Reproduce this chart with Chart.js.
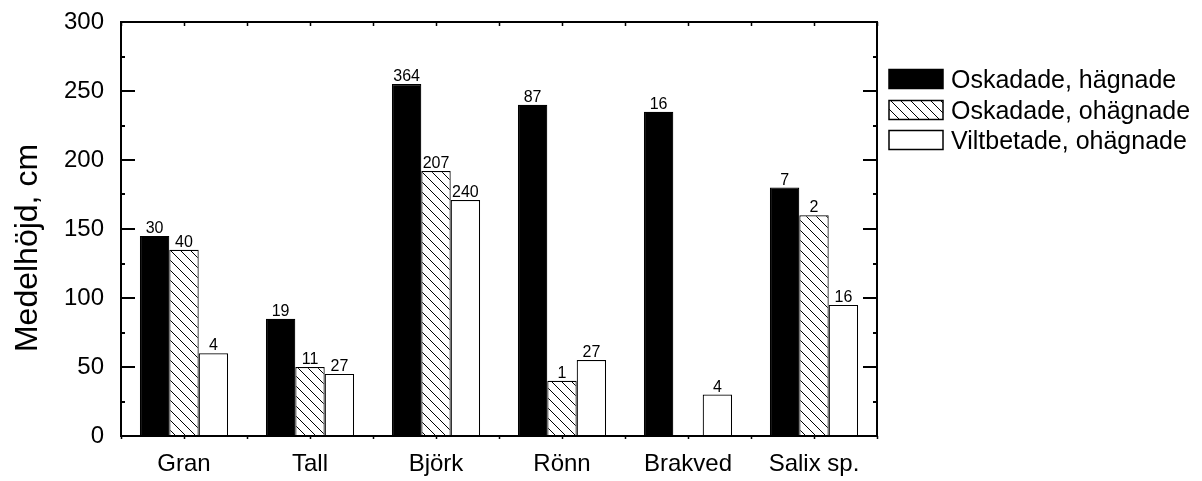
<!DOCTYPE html>
<html>
<head>
<meta charset="utf-8">
<script src="https://cdn.jsdelivr.net/npm/chart.js@4.4.0/dist/chart.umd.min.js"></script>
<style>
    body { margin: 0; background: #fff; }
    #wrap { width: 1202px; height: 481px; position: relative; }
</style>
</head>
<body>
<div id="wrap"><canvas id="hojdChart"></canvas></div>
<script>
// trädslag
const categories = ['Gran', 'Tall', 'Björk', 'Rönn', 'Brakved', 'Salix sp.'];

// medelhöjd i cm per behandling
const oskadadeHagnade = [145, 85, 255, 240, 235, 180];
const oskadadeOhagnade = [135, 50, 192, 40, null, 160];
const viltbetadeOhagnade = [60, 45, 171, 55, 30, 95];

// antal träd (visas ovanför staplarna)
const antalHagnade = [30, 19, 364, 87, 16, 7];
const antalOhagnade = [40, 11, 207, 1, null, 2];
const antalViltbetade = [4, 27, 240, 27, 4, 16];

// skala på y-axeln
const yTicks = [0, 50, 100, 150, 200, 250, 300];

const seriesLabels = ['Oskadade, hägnade', 'Oskadade, ohägnade', 'Viltbetade, ohägnade'];
const antal = [antalHagnade, antalOhagnade, antalViltbetade];

const FONT = 'Arial, "Liberation Sans", sans-serif';

// snedstreckat mönster
function makeHatch() {
    const s = 10;
    const c = document.createElement('canvas');
    c.width = s; c.height = s;
    const g = c.getContext('2d');
    g.fillStyle = '#fff';
    g.fillRect(0, 0, s, s);
    g.strokeStyle = '#000';
    g.lineWidth = 1;
    g.beginPath();
    g.moveTo(-1, -1); g.lineTo(s + 1, s + 1);
    g.moveTo(-1, s - 1); g.lineTo(1, s + 1);
    g.moveTo(s - 1, -1); g.lineTo(s + 1, 1);
    g.stroke();
    return c;
}
const ctx = document.getElementById('hojdChart').getContext('2d');
const hatch = ctx.createPattern(makeHatch(), 'repeat');

const fills = ['#000', hatch, '#fff'];

//===============================================================
// ram, skalstreck, etiketter och teckenförklaring
const extrasPlugin = {
    id: 'extras',
    afterDatasetsDraw(chart) {
        const c = chart.ctx;
        const a = chart.chartArea;
        const x = chart.scales.x;
        const y = chart.scales.y;

        // antal ovanför staplarna
        c.save();
        c.fillStyle = '#000';
        c.font = '16px ' + FONT;
        c.textAlign = 'center';
        c.textBaseline = 'alphabetic';
        chart.data.datasets.forEach((ds, di) => {
            const meta = chart.getDatasetMeta(di);
            meta.data.forEach((bar, i) => {
                const n = antal[di][i];
                if (n == null || ds.data[i] == null) return;
                c.fillText(String(n), bar.x, bar.y - 3);
            });
        });
        c.restore();

        // ram
        c.save();
        c.strokeStyle = '#000';
        c.lineWidth = 2;
        c.strokeRect(a.left, a.top, a.right - a.left, a.bottom - a.top);

        // y-axelns skalstreck, vänster och höger
        c.lineWidth = 2;
        c.beginPath();
        for (let v = y.min; v <= y.max; v += 25) {
            const py = Math.round(y.getPixelForValue(v));
            const len = (v % 50 === 0) ? 14 : 4;
            c.moveTo(a.left, py); c.lineTo(a.left + len, py);
            c.moveTo(a.right, py); c.lineTo(a.right - len, py);
        }
        c.stroke();

        // x-axelns små streck
        c.lineWidth = 1.5;
        c.beginPath();
        for (let i = -0.5; i <= categories.length - 0.5; i += 0.5) {
            const px = Math.round(x.getPixelForValue(i)) + 0.5;
            c.moveTo(px, a.top); c.lineTo(px, a.top + 4);
            c.moveTo(px, a.bottom); c.lineTo(px, a.bottom + 3);
        }
        c.stroke();
        c.restore();

        // y-axelns titel
        c.save();
        c.fillStyle = '#000';
        c.font = '32px ' + FONT;
        c.textAlign = 'center';
        c.textBaseline = 'alphabetic';
        c.translate(37, 248);
        c.rotate(-Math.PI / 2);
        c.fillText('Medelhöjd, cm', 0, 0);
        c.restore();

        // teckenförklaring
        c.save();
        const rows = [79, 110, 140];
        chart.data.datasets.forEach((ds, di) => {
            const cy = rows[di];
            c.fillStyle = ds.backgroundColor;
            c.fillRect(889, cy - 9.5, 54, 19);
            c.strokeStyle = '#000';
            c.lineWidth = 1.5;
            c.strokeRect(889, cy - 9.5, 54, 19);
            c.fillStyle = '#000';
            c.font = '25px ' + FONT;
            c.textAlign = 'left';
            c.textBaseline = 'alphabetic';
            c.fillText(ds.label, 951, cy + 9);
        });
        c.restore();
    }
};

var hojdChart = new Chart(ctx, {
    type: 'bar',
    data: {
        labels: categories,
        datasets: [oskadadeHagnade, oskadadeOhagnade, viltbetadeOhagnade].map((d, i) => ({
            label: seriesLabels[i],
            data: d,
            backgroundColor: fills[i],
            borderColor: '#000',
            borderWidth: 1.2,
            borderSkipped: 'bottom',
            categoryPercentage: 0.7,
            barPercentage: 1.0
        }))
    },
    options: {
        responsive: true,
        maintainAspectRatio: false,
        animation: false,
        layout: { padding: { top: 22, right: 325, left: 0, bottom: 0 } },
        plugins: {
            legend: { display: false },
            tooltip: { enabled: false }
        },
        scales: {
            x: {
                offset: true,
                grid: { display: false, drawTicks: false },
                border: { display: false },
                ticks: {
                    color: '#000',
                    font: { family: FONT, size: 24 },
                    padding: 14,
                    maxRotation: 0
                },
                afterFit(scale) {
                    scale.height = 45;
                    scale.paddingLeft = 0;
                    scale.paddingRight = 0;
                }
            },
            y: {
                min: 0,
                max: 300,
                afterBuildTicks(scale) {
                    scale.ticks = yTicks.map(v => ({ value: v }));
                },
                grid: { display: false, drawTicks: false },
                border: { display: false },
                ticks: {
                    color: '#000',
                    font: { family: FONT, size: 24 },
                    padding: 17
                },
                afterFit(scale) {
                    scale.width = 121;
                    scale.paddingTop = 0;
                    scale.paddingBottom = 0;
                }
            }
        }
    },
    plugins: [extrasPlugin]
});
</script>
</body>
</html>
